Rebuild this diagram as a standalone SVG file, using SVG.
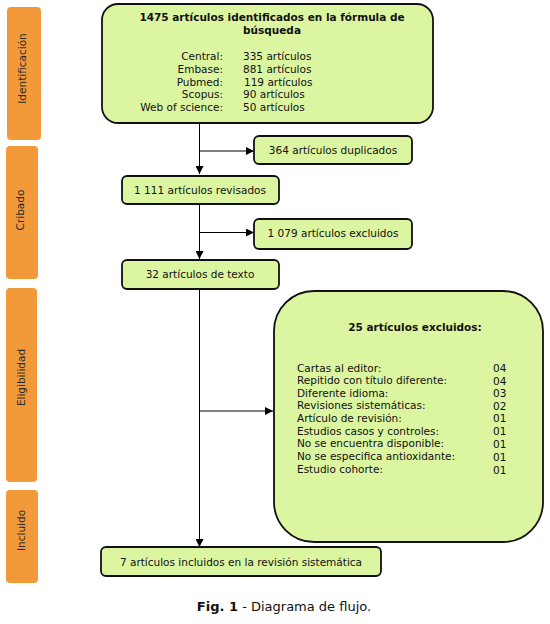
<svg xmlns="http://www.w3.org/2000/svg" width="550" height="624" viewBox="0 0 550 624">
<style>
.side{fill:#F29A3A}
.sidet{font-family:"DejaVu Sans",Verdana,sans-serif;font-size:10.5px;fill:#2a2a2a}
.box{fill:#DCF5A1;stroke:#111;stroke-width:1.8}
.t{font-family:"DejaVu Sans",Verdana,sans-serif;font-size:10.5px;fill:#111}
.b{font-weight:bold}
.ln{stroke:#000;stroke-width:1;fill:none}
.cap{font-family:"DejaVu Sans",Verdana,sans-serif;font-size:13px;fill:#111}
</style>
<defs>
<marker id="ah" viewBox="0 0 10 10" refX="10" refY="5" markerWidth="9" markerHeight="8" markerUnits="userSpaceOnUse" orient="auto">
<path d="M0,0 L10,5 L0,10 Z" fill="#000"/>
</marker>
</defs>
<rect width="550" height="624" fill="#fff"/>
<g id="side-identificacion"><rect class="side" x="7" y="7" width="34" height="133" rx="4"/><text class="sidet" transform="translate(26,68.5) rotate(-90)" text-anchor="middle">Identificación</text></g>
<g id="side-cribado"><rect class="side" x="6" y="146" width="32" height="133" rx="4"/><text class="sidet" transform="translate(24,210) rotate(-90)" text-anchor="middle">Cribado</text></g>
<g id="side-eligibilidad"><rect class="side" x="6" y="288" width="31" height="194" rx="4"/><text class="sidet" transform="translate(24.5,377.5) rotate(-90)" text-anchor="middle">Eligibilidad</text></g>
<g id="side-incluido"><rect class="side" x="6" y="490" width="32" height="93" rx="4"/><text class="sidet" transform="translate(25,530.5) rotate(-90)" text-anchor="middle">Incluido</text></g>
<g id="connectors">
<line class="ln" x1="199.5" y1="123" x2="199.5" y2="174" marker-end="url(#ah)"/>
<line class="ln" x1="199.5" y1="151" x2="254" y2="151" marker-end="url(#ah)"/>
<line class="ln" x1="199.5" y1="204" x2="199.5" y2="259" marker-end="url(#ah)"/>
<line class="ln" x1="199.5" y1="232.5" x2="254" y2="232.5" marker-end="url(#ah)"/>
<line class="ln" x1="199.5" y1="289" x2="199.5" y2="547" marker-end="url(#ah)"/>
<line class="ln" x1="199.5" y1="411" x2="273" y2="411" marker-end="url(#ah)"/>
</g>
<g id="node-identificados">
<rect class="box" x="102" y="4" width="331" height="119" rx="16"/>
<text class="t b" x="272" y="21" text-anchor="middle">1475 artículos identificados en la fórmula de</text>
<text class="t b" x="272" y="34" text-anchor="middle">búsqueda</text>
<text class="t" x="223" y="60" text-anchor="end">Central:</text><text class="t" x="243" y="60">335 artículos</text>
<text class="t" x="223" y="73" text-anchor="end">Embase:</text><text class="t" x="243" y="73">881 artículos</text>
<text class="t" x="223" y="86" text-anchor="end">Pubmed:</text><text class="t" x="244" y="86">119 artículos</text>
<text class="t" x="223" y="98" text-anchor="end">Scopus:</text><text class="t" x="243" y="98">90 artículos</text>
<text class="t" x="223" y="111" text-anchor="end">Web of science:</text><text class="t" x="243" y="111">50 artículos</text>
</g>
<g id="node-duplicados"><rect class="box" x="254" y="136" width="158" height="28" rx="5"/><text class="t" x="333" y="154" text-anchor="middle">364 artículos duplicados</text></g>
<g id="node-revisados"><rect class="box" x="122" y="176" width="157" height="28" rx="5"/><text class="t" x="200" y="194" text-anchor="middle">1 111 artículos revisados</text></g>
<g id="node-excluidos1"><rect class="box" x="254" y="219" width="158" height="30" rx="5"/><text class="t" x="333" y="237" text-anchor="middle">1 079 artículos excluidos</text></g>
<g id="node-texto"><rect class="box" x="122" y="260" width="157" height="29" rx="5"/><text class="t" x="200" y="278" text-anchor="middle">32 artículos de texto</text></g>
<g id="node-excluidos25">
<rect class="box" x="274" y="291" width="269" height="251" rx="40"/>
<text class="t b" x="415" y="331" text-anchor="middle">25 artículos excluidos:</text>
<text class="t" x="297" y="372">Cartas al editor:</text><text class="t" x="493" y="372">04</text>
<text class="t" x="297" y="384">Repitido con título diferente:</text><text class="t" x="493" y="385">04</text>
<text class="t" x="297" y="397">Diferente idioma:</text><text class="t" x="493" y="397">03</text>
<text class="t" x="297" y="409">Revisiones sistemáticas:</text><text class="t" x="493" y="410">02</text>
<text class="t" x="297" y="422">Artículo de revisión:</text><text class="t" x="493" y="422">01</text>
<text class="t" x="297" y="435">Estudios casos y controles:</text><text class="t" x="493" y="435">01</text>
<text class="t" x="297" y="447">No se encuentra disponible:</text><text class="t" x="493" y="448">01</text>
<text class="t" x="297" y="460">No se especifica antioxidante:</text><text class="t" x="493" y="461">01</text>
<text class="t" x="297" y="473">Estudio cohorte:</text><text class="t" x="493" y="474">01</text>
</g>
<g id="node-incluidos"><rect class="box" x="101" y="547" width="280" height="29" rx="5"/><text class="t" x="241" y="566" text-anchor="middle">7 artículos incluidos en la revisión sistemática</text></g>
<text class="cap" x="284" y="611" text-anchor="middle"><tspan font-weight="bold">Fig. 1</tspan> - Diagrama de flujo.</text>
</svg>
